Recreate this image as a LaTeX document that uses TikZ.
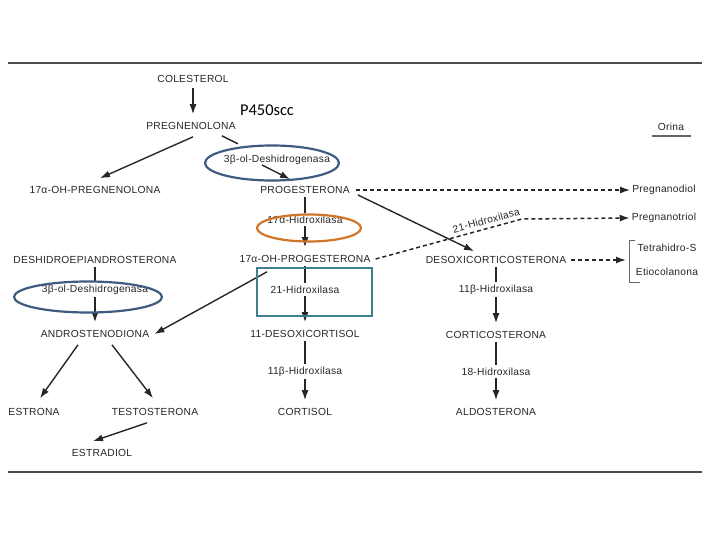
\documentclass[tikz,border=0pt]{standalone}
\usepackage{fontspec}
\setmainfont{Liberation Sans}
\newfontfamily\notafont{Carlito}
\usetikzlibrary{arrows.meta}
\usetikzlibrary{positioning, calc}
\usepackage{xcolor}
\definecolor{ovazul}{RGB}{62,92,128}
\definecolor{ovnaranja}{RGB}{209,117,40}
\definecolor{cuadro}{RGB}{62,128,143}

\tikzset{
  mol/.style={font=\fontsize{10.3}{12}\selectfont\addfontfeature{LetterSpace=2.5}, text=black!85, inner sep=2bp},
  tramo/.style={line width=1.4bp, black!85},
  flujo/.style={tramo, -{Latex[length=10bp,width=7bp]}},
  orina/.style={flujo, dash pattern=on 4bp off 3bp, line width=1.5bp},
  regla/.style={line width=1.8bp, black!70},
  marca/.style={line width=2.2bp}
}

\begin{document}
\begin{tikzpicture}[x=1bp, y=-1bp]
			\useasboundingbox (0,0) rectangle (720,540);
			\draw[regla] (8,63) -- (702,63);
			\draw[regla] (8,472) -- (702,472);
			
			\node[mol] (col) at (193,79) {COLESTEROL};
			\node[mol] (preg) at (191,126) {PREGNENOLONA};
			\node[font=\notafont\fontsize{16.5}{18}\selectfont, inner sep=1bp] (p450) at (267,110) {P450scc};
			\node[mol] (ori) at (671,127) {Orina};
			\node[mol] (ohpreg) at (95,190) {17α-OH-PREGNENOLONA};
			\node[mol] (prog) at (305,190) {PROGESTERONA};
			\node[mol] (dA) at (277,160) {3β-ol-Deshidrogenasa};
			\node[mol] (pdiol) at (664,190) {Pregnanodiol};
			\node[mol] (h17) at (305,220) {17α-Hidroxilasa};
			\node[mol] (ptriol) at (664,218) {Pregnanotriol};
			\node[mol] (dhea) at (95,260) {DESHIDROEPIANDROSTERONA};
			\node[mol] (ohprog) at (305,259) {17α-OH-PROGESTERONA};
			\node[mol] (doc) at (496,260) {DESOXICORTICOSTERONA};
			\node[mol] (tetra) at (667,248) {Tetrahidro-S};
			\node[mol] (etio) at (667,272) {Etiocolanona};
			\node[mol] (dB) at (95,290) {3β-ol-Deshidrogenasa};
			\node[mol] (h21) at (305,290) {21-Hidroxilasa};
			\node[mol] (h11a) at (496,290) {11β-Hidroxilasa};
			\node[mol] (andro) at (95,334) {ANDROSTENODIONA};
			\node[mol] (dcort) at (305,334) {11-DESOXICORTISOL};
			\node[mol] (cortico) at (496,335) {CORTICOSTERONA};
			\node[mol] (h11b) at (305,372) {11β-Hidroxilasa};
			\node[mol] (h18) at (496,372) {18-Hidroxilasa};
			\node[mol] (estrona) at (34,412) {ESTRONA};
			\node[mol] (testo) at (155,412) {TESTOSTERONA};
			\node[mol] (cortisol) at (305,412) {CORTISOL};
			\node[mol] (aldo) at (496,412) {ALDOSTERONA};
			\node[mol] (estradiol) at (102,453) {ESTRADIOL};
			
			\draw[line width=1.2bp, black!60] ($(ori.south)+(-19,3)$) -- ($(ori.south)+(20,3)$);
			
			\draw[flujo, shorten >=6bp, shorten <=3bp] (col.south) -- (col.south |- preg.north);
			\foreach \a/\e/\b in {prog/h17/ohprog, ohprog/h21/dcort, dcort/h11b/cortisol, doc/h11a/cortico, cortico/h18/aldo, dhea/dB/andro}{
				\draw[tramo, shorten <=1bp, shorten >=1bp] (\a.south) -- (\e.north);
				\draw[flujo, shorten >=6bp] (\e.south) -- (\b.north);
			}
			
			\draw[tramo] ($(preg.south east)+(-16,4)$) -- +(16,8);
			\draw[flujo] ($(dA.south)+(-15,-2)$) -- ($(prog.north)+(-15,-5)$);
			\draw[flujo] ($(preg.south)+(2,5)$) -- ($(ohpreg.north)+(5,-6)$);
			\draw[flujo] ($(prog.east)+(6,5)$) -- ($(doc.north)+(-22,-3)$);
			\draw[flujo] ($(ohprog.south)+(-38,7)$) -- ($(andro.east)+(3,0)$);
			\draw[flujo] ($(andro.south)+(-17,5)$) -- ($(estrona.north)+(6,-8)$);
			\draw[flujo] ($(andro.south)+(17,5)$) -- ($(testo.north)+(-2,-8)$);
			\draw[flujo] ($(testo.south)+(-8,5)$) -- ($(estradiol.north)+(-9,-6)$);
			
			\coordinate (giro) at (522,219);
			\coordinate (llave) at (626,260);
			\draw[orina] ($(prog.east)+(4,0)$) -- (pdiol.west);
			\draw[orina] ($(ohprog.east)+(3,0)$) -- node[mol, sloped, above=2.5bp, pos=0.77, inner sep=1bp] (h21b) {21-Hidroxilasa} (giro) -- (ptriol.west);
			\draw[orina] ($(doc.east)+(3,0)$) -- (llave);
			\draw[line width=0.8bp, black!60] ($(tetra.north west)+(0,-2)$) -- ++(-6,0) |- ($(etio.south west)+(0,4)$) -- ++(6,0);
			
			\draw[marca, ovazul] ($(dA)+(-5,3)$) ellipse [x radius=67bp, y radius=17.5bp];
			\draw[marca, ovazul] ($(dB)+(-7,7)$) ellipse [x radius=74bp, y radius=15.5bp];
			\draw[marca, ovnaranja] ($(h17)+(4,8)$) ellipse [x radius=52bp, y radius=13.5bp];
			\draw[marca, cuadro] (257,268) rectangle (372,316);
			
		\end{tikzpicture}
\end{document}
